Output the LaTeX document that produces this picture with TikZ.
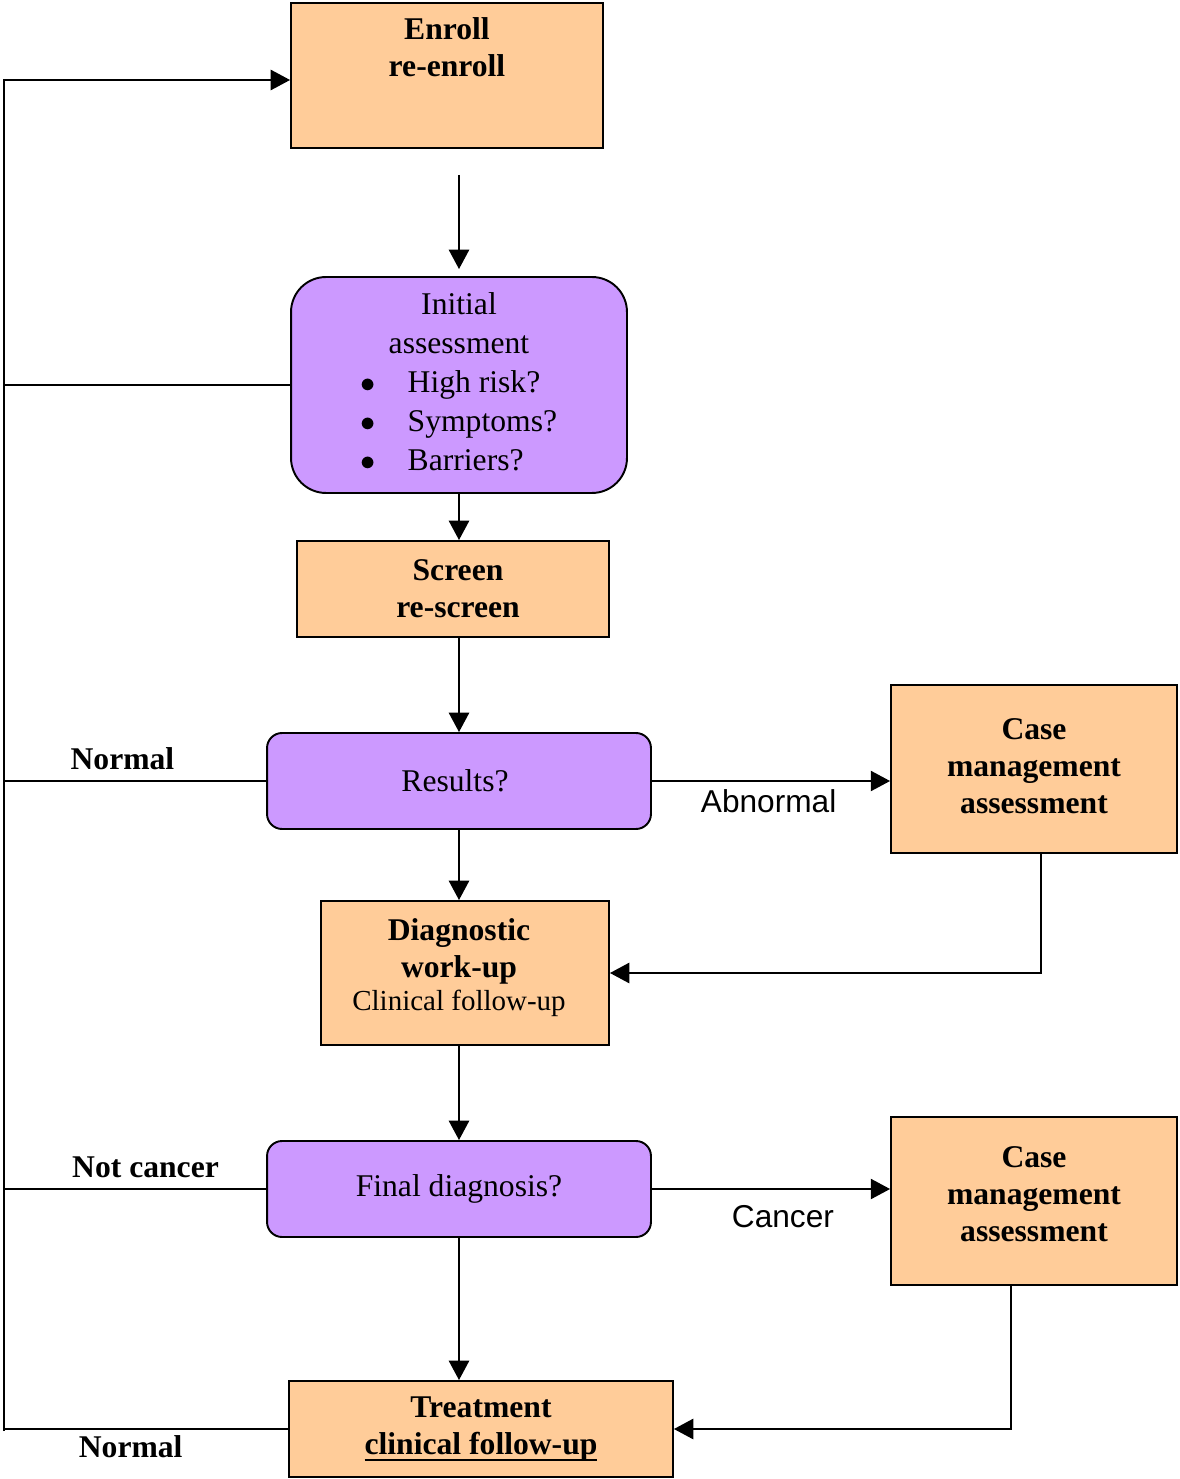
\documentclass[tikz,border=0pt]{standalone}
\usepackage{fontspec}
\setmainfont{Liberation Serif}
\setsansfont{Liberation Sans}
\usepackage{tikz}
\usetikzlibrary{arrows.meta,positioning}

\definecolor{taskorange}{HTML}{FFCC99}
\definecolor{checkpurple}{HTML}{CC99FF}
\newcommand{\thickul}[1]{\leavevmode\setbox0=\hbox{#1}\rlap{\rule[-4pt]{\wd0}{1.6pt}}\box0}

\begin{document}
\begin{tikzpicture}[x=0.02cm,y=-0.02cm,line width=1.1pt,
    task/.style={draw, fill=taskorange, inner sep=0pt, align=center,
                 font=\fontsize{18}{21}\selectfont\bfseries},
    check/.style={draw, fill=checkpurple, inner sep=0pt,
                  font=\fontsize{18}{22.2}\selectfont},
    link/.style={-{Triangle[length=11pt,width=11.5pt]}},
    tag/.style={font=\fontsize{18}{21}\selectfont\bfseries},
    edgetxt/.style={font=\sffamily\fontsize{18}{21}\selectfont}]
   \useasboundingbox (0,0) rectangle (1179,1479);

   \node[task, minimum width=6.24cm, minimum height=2.9cm, inner ysep=0.3cm]
        (enroll) at (447,75.5) {\parbox[c][2.3cm][t]{6cm}{\centering Enroll\\re-enroll}} ; %
   \node[check, rounded corners=0.7cm, minimum width=6.72cm, minimum height=4.32cm]
        (initial) at (459,385)
        {\begin{tabular}{@{}l@{\hspace{18pt}}l@{}}
           \multicolumn{2}{@{}c@{}}{Initial}\\
           \multicolumn{2}{@{}c@{}}{assessment}\\
           $\bullet$ & High risk?\\
           $\bullet$ & Symptoms?\\
           $\bullet$ & Barriers?
         \end{tabular}} ; %
   \node[task, minimum width=6.24cm, minimum height=1.92cm]
        (screen) at (453,589)
        {\hspace*{0.2cm}\begin{tabular}{@{}c@{}}Screen\\re-screen\\[-0.12cm]\end{tabular}} ; %
   \node[check, rounded corners=0.3cm, minimum width=7.68cm, minimum height=1.92cm]
        (results) at (459,781) {Results?\hspace*{0.16cm}} ; %
   \node[task, minimum width=5.72cm, minimum height=3.36cm]
        (casea) at (1034,769)
        {\begin{tabular}{@{}c@{}}Case\\management\\assessment\end{tabular}} ; %
   \node[task, minimum width=5.76cm, minimum height=2.88cm]
        (diag) at (465,973)
        {\begin{tabular}{@{}c@{}}Diagnostic\\work-up\\[-2pt]
         {\mdseries\fontsize{16.5}{19}\selectfont Clinical follow-up}\\[0.2cm]
         \end{tabular}\hspace*{0.24cm}} ; %
   \node[check, rounded corners=0.3cm, minimum width=7.68cm, minimum height=1.92cm]
        (final) at (459,1189) {Final diagnosis?} ; %
   \node[task, minimum width=5.72cm, minimum height=3.36cm]
        (caseb) at (1034,1201)
        {\begin{tabular}{@{}c@{}}Case\\management\\assessment\\[0.14cm]\end{tabular}} ; %
   \node[task, minimum width=7.68cm, minimum height=1.92cm]
        (treat) at (481,1429) {Treatment\\\thickul{clinical follow-up}} ; %

   \coordinate (feed) at (459,175) ;
   \coordinate (rail) at (4,1431) ;

   % main column
   \draw[link, shorten >=0.14cm] (feed) -- (initial.north) ;
   \draw[link] (initial.south) -- (initial.south |- screen.north) ;
   \draw[link] (results.north |- screen.south) -- (results.north) ;
   \draw[link] (results.south) -- (results.south |- diag.north) ;
   \draw[link] (final.north |- diag.south) -- (final.north) ;
   \draw[link] (final.south) -- (final.south |- treat.north) ;

   % case management
   \draw[link] (results.east) -- (results.east -| casea.west)
        node[edgetxt, pos=0.49, below=1pt] {Abnormal} ;
   \draw[link] ([xshift=0.14cm]casea.south) |- (diag.east) ;
   \draw[link] (final.east) -- (final.east -| caseb.west)
        node[edgetxt, pos=0.55, below=5.5pt] {Cancer} ;
   \draw[link] ([xshift=-0.46cm]caseb.south) |- (treat.east) ;

   % back to enroll
   \draw[link] (rail) |- ([yshift=-0.09cm]enroll.west) ;
   \draw (initial.west) -- (initial.west -| rail) ;
   \draw (results.west) -- (results.west -| rail)
        node[tag, pos=0.548, above=2.5pt] {Normal} ;
   \draw (final.west) -- (final.west -| rail)
        node[tag, pos=0.46, above=2.5pt] {Not cancer} ;
   \draw (treat.west) -- (treat.west -| rail)
        node[tag, pos=0.554, below] {Normal} ;

\end{tikzpicture}
\end{document}
